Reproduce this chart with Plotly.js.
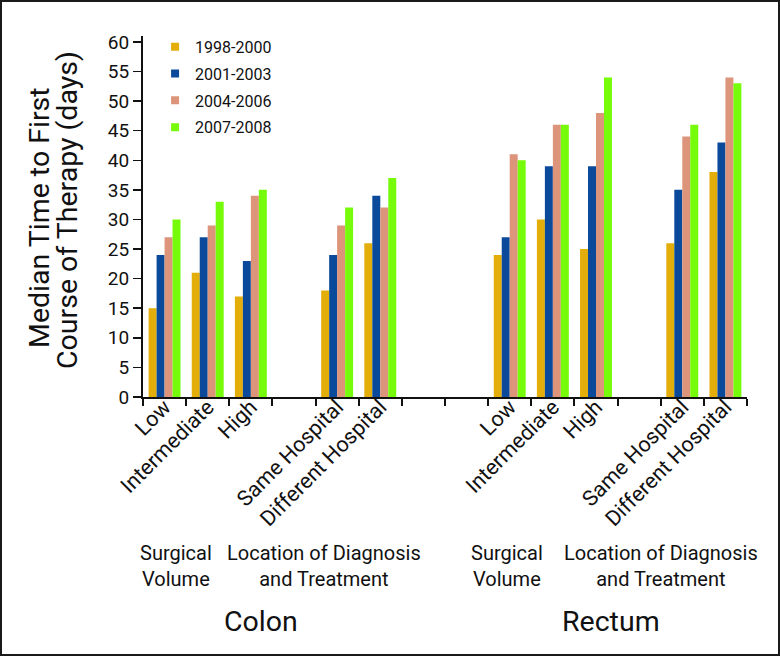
<!DOCTYPE html>
<html>
<head>
<meta charset="utf-8">
<script src="https://cdn.plot.ly/plotly-3.0.1.min.js"></script>
<style>
html,body{margin:0;padding:0;background:#fff;}
#wrap{position:relative;width:780px;height:656px;}
#chart{width:780px;height:656px;}
#frame{position:absolute;left:0;top:0;width:780px;height:656px;box-sizing:border-box;border:2px solid #1a1a1a;pointer-events:none;}
</style>
</head>
<body>
<div id="wrap"><div id="chart"></div><div id="frame"></div></div>
<script>
// Category slots along the x axis (blank slots are the gaps between groups)
const categoryIds = ['C-Low','C-Intermediate','C-High','C-gap','C-Same','C-Different','gap-1','gap-2','R-Low','R-Intermediate','R-High','R-gap','R-Same','R-Different'];
const categoryLabels = ['Low','Intermediate','High','','Same Hospital','Different Hospital','','','Low','Intermediate','High','','Same Hospital','Different Hospital'];

const seriesNames = ['1998-2000','2001-2003','2004-2006','2007-2008'];
const s1998_2000 = [15,21,17,null,18,26,null,null,24,30,25,null,26,38];
const s2001_2003 = [24,27,23,null,24,34,null,null,27,39,39,null,35,43];
const s2004_2006 = [27,29,34,null,29,32,null,null,41,46,48,null,44,54];
const s2007_2008 = [30,33,35,null,32,37,null,null,40,46,54,null,46,53];

const yTickVals = [0,5,10,15,20,25,30,35,40,45,50,55,60];
const yTitleLines = ['Median Time to First','Course of Therapy (days)'];

const subgroupLabels = ['Surgical<br>Volume','Location of Diagnosis<br>and Treatment','Surgical<br>Volume','Location of Diagnosis<br>and Treatment'];
const siteLabels = ['Colon','Rectum'];

const colors = ['#E3AE0A','#0B4A9A','#DC947A','#76FB0A'];
const FONT = '"Liberation Sans Narrow", "Arial Narrow", "Roboto", sans-serif';
const INK = '#111';

const seriesValues = [s1998_2000, s2001_2003, s2004_2006, s2007_2008];
const traces = [];
seriesValues.forEach((vals, i) => {
  traces.push({
    type: 'bar', name: seriesNames[i], x: categoryIds, y: vals,
    marker: {color: colors[i], line: {width: 0}}, showlegend: false, hoverinfo: 'x+y'
  });
});
// legend entries with small square swatches
seriesNames.forEach((n, i) => {
  traces.push({
    type: 'scatter', mode: 'markers', name: n, x: [null], y: [null],
    marker: {symbol: 'square', size: 8, color: colors[i]}, legendgroup: 'g' + i, showlegend: true
  });
});

const W = 780, H = 656, L = 143, R = 33, T = 36, B = 259;
const pw = W - L - R, ph = H - T - B;
const px = v => (v - L) / pw;
const py = v => (H - B - v) / ph;

const annX = [176, 324, 507, 661];
const annotations = subgroupLabels.map((t, i) => ({
  xref: 'paper', yref: 'paper', x: px(annX[i]), y: py(566), xanchor: 'center', yanchor: 'middle',
  text: t, showarrow: false, font: {family: FONT, size: 20, color: INK}
}));
const siteX = [261, 611];
siteLabels.forEach((t, i) => annotations.push({
  xref: 'paper', yref: 'paper', x: px(siteX[i]), y: py(621), xanchor: 'center', yanchor: 'middle',
  text: t, showarrow: false, font: {family: FONT, size: 28.5, color: INK}
}));
const yTitleX = [39, 68], yTitleY = [218, 210];
yTitleLines.forEach((t, i) => annotations.push({
  xref: 'paper', yref: 'paper', x: px(yTitleX[i]), y: py(yTitleY[i]), xanchor: 'center', yanchor: 'middle',
  textangle: -90, text: t, showarrow: false, font: {family: FONT, size: 28.5, color: INK}
}));

const layout = {
  width: W, height: H,
  margin: {l: L, r: R, t: T, b: B, pad: 0},
  paper_bgcolor: '#fff', plot_bgcolor: '#fff',
  font: {family: FONT, color: INK},
  barmode: 'group', bargap: 0.26, bargroupgap: 0,
  showlegend: true,
  legend: {
    x: 0.020, y: 1.017, xanchor: 'left', yanchor: 'top', bgcolor: 'rgba(0,0,0,0)',
    font: {family: FONT, size: 16, color: INK}, traceorder: 'grouped', tracegroupgap: 3,
    itemwidth: 30
  },
  xaxis: {
    type: 'category', categoryorder: 'array', categoryarray: categoryIds,
    range: [-0.5, 13.5], fixedrange: true,
    tickmode: 'array', tickvals: categoryIds, ticktext: categoryLabels,
    tickson: 'boundaries', ticks: 'outside', ticklen: 7, tickwidth: 2, tickcolor: INK,
    tickangle: -45, tickfont: {family: FONT, size: 21.5, color: INK}, ticklabelstandoff: -13,
    showline: true, linecolor: INK, linewidth: 2, showgrid: false, zeroline: false
  },
  yaxis: {
    range: [0, 61], fixedrange: true,
    tickmode: 'array', tickvals: yTickVals,
    ticks: 'outside', ticklen: 8, tickwidth: 1.5, tickcolor: INK,
    tickfont: {family: FONT, size: 19, color: INK},
    showline: true, linecolor: INK, linewidth: 2, showgrid: false, zeroline: false
  },
  annotations: annotations
};

Plotly.newPlot('chart', traces, layout, {displayModeBar: false, staticPlot: true});
</script>
</body>
</html>
